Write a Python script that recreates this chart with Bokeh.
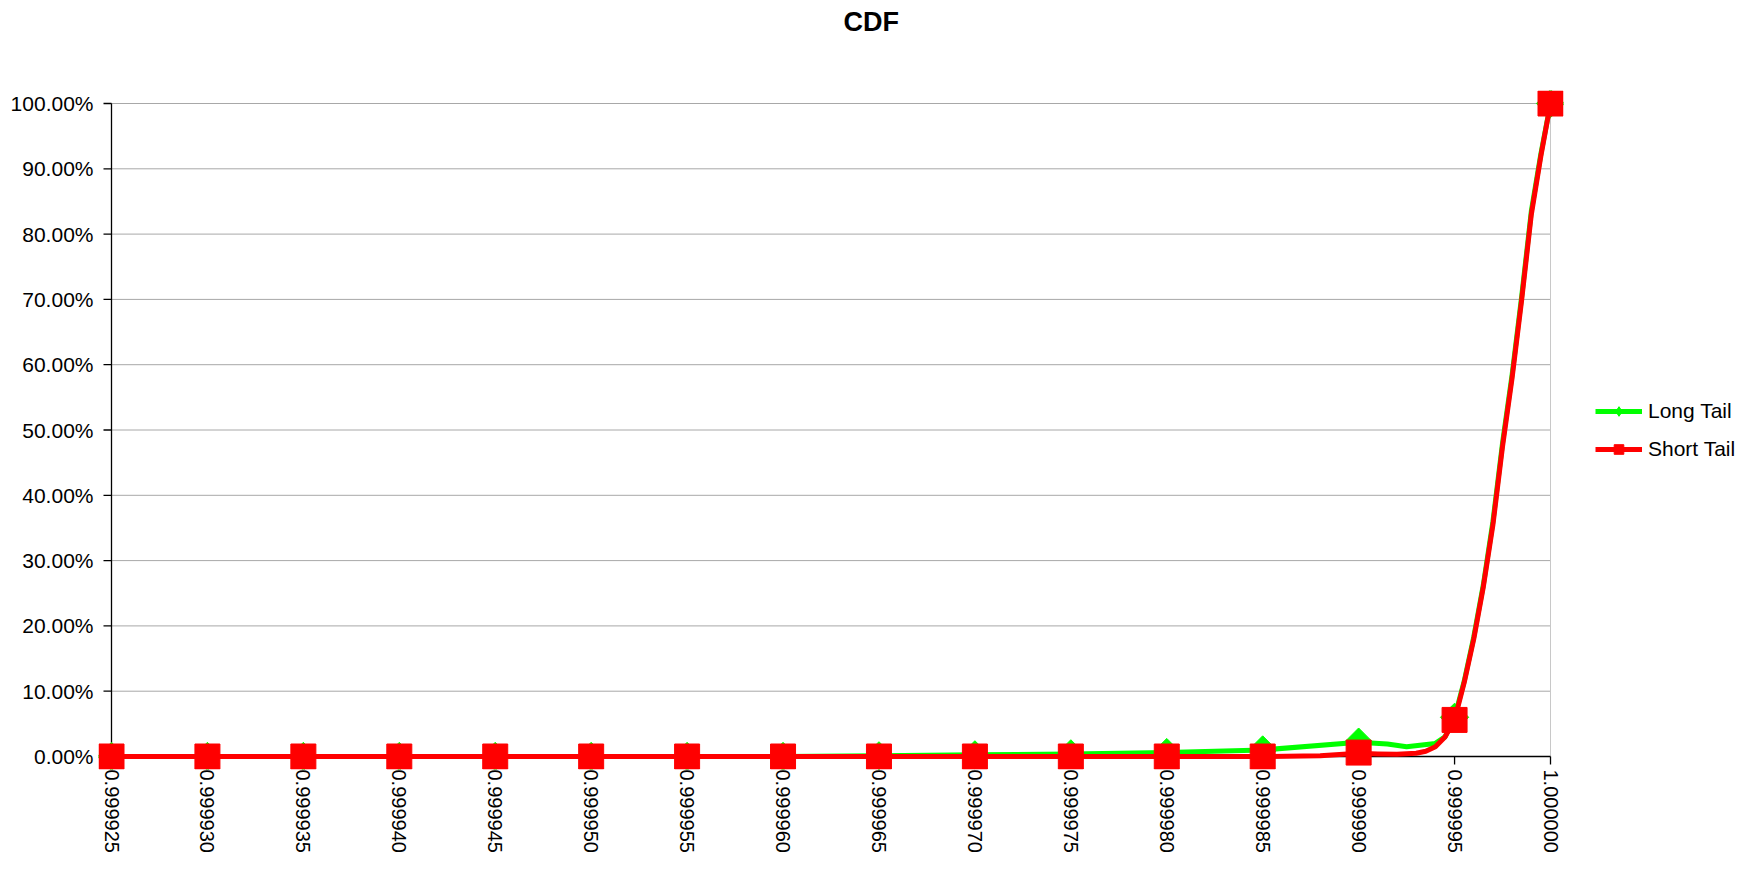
import math
from bokeh.plotting import figure
from bokeh.models import Range1d, FixedTicker, Legend, LegendItem, Title
from bokeh.embed import file_html
from bokeh.resources import INLINE

# ---------------- data ----------------
title_text = "CDF"
series_names = ["Long Tail", "Short Tail"]

x_ticks = [0.999925, 0.999930, 0.999935, 0.999940, 0.999945, 0.999950, 0.999955, 0.999960,
           0.999965, 0.999970, 0.999975, 0.999980, 0.999985, 0.999990, 0.999995, 1.000000]
x_tick_labels = ["0.999925", "0.999930", "0.999935", "0.999940", "0.999945", "0.999950",
                 "0.999955", "0.999960", "0.999965", "0.999970", "0.999975", "0.999980",
                 "0.999985", "0.999990", "0.999995", "1.000000"]
y_ticks = [0, 10, 20, 30, 40, 50, 60, 70, 80, 90, 100]
y_tick_labels = ["0.00%", "10.00%", "20.00%", "30.00%", "40.00%", "50.00%",
                 "60.00%", "70.00%", "80.00%", "90.00%", "100.00%"]

# marker values (percent) at each x tick
long_tail_markers = [0, 0, 0, 0, 0, 0, 0, 0, 0.1, 0.25, 0.4, 0.6, 1.0, 2.2, 6.0, 100]
short_tail_markers = [0, 0, 0, 0, 0, 0, 0, 0, 0, 0, 0, 0, 0, 0.6, 5.6, 100]

# drawn (smoothed) curves
long_tail_curve_x = [0.999925, 0.999930, 0.999935, 0.999940, 0.999945, 0.999950, 0.999955,
                     0.999960, 0.999965, 0.999970, 0.999975, 0.999980, 0.999985, 0.999990,
                     0.9999915, 0.9999925, 0.999994, 0.9999945, 0.999995, 0.9999955,
                     0.999996, 0.9999965, 0.999997, 0.9999975, 0.999998, 0.9999985,
                     0.999999, 0.9999995, 1.000000]
long_tail_curve_y = [0, 0, 0, 0, 0, 0, 0, 0, 0.1, 0.25, 0.4, 0.6, 1.0, 2.2,
                     1.9, 1.5, 2.0, 3.0, 6.0, 11.5,
                     18.3, 26.3, 36.0, 48.0, 58.5, 70.5, 83.5, 92.3, 100]
short_tail_curve_x = [0.999925, 0.999930, 0.999935, 0.999940, 0.999945, 0.999950, 0.999955,
                      0.999960, 0.999965, 0.999970, 0.999975, 0.999980, 0.999985, 0.999988,
                      0.999990, 0.999991, 0.999992, 0.999993, 0.9999935, 0.999994,
                      0.9999945, 0.999995, 0.9999955, 0.999996, 0.9999965, 0.999997,
                      0.9999975, 0.999998, 0.9999985, 0.999999, 0.9999995, 1.000000]
short_tail_curve_y = [0, 0, 0, 0, 0, 0, 0, 0, 0, 0, 0, 0, 0, 0.1,
                      0.5, 0.4, 0.35, 0.5, 0.8, 1.5,
                      3.0, 5.6, 11.3, 18.0, 26.0, 35.5, 47.5, 58.0, 70.0, 83.0, 92.0, 100]

# ---------------- styling / layout ----------------
GREEN = "#00ff00"
RED = "#ff0000"
FONT = "Liberation Sans"

X0, X1 = x_ticks[0], x_ticks[-1]
Y0, Y1 = y_ticks[0], y_ticks[-1]
PLOT_W, PLOT_H, PAD = 1439, 653, 13
x_pad = PAD / PLOT_W * (X1 - X0)
y_pad = PAD / PLOT_H * (Y1 - Y0)

p = figure(frame_width=PLOT_W + 2 * PAD, frame_height=PLOT_H + 2 * PAD,
           x_range=Range1d(X0 - x_pad, X1 + x_pad),
           y_range=Range1d(Y0 - y_pad, Y1 + y_pad),
           output_backend="svg", toolbar_location=None, title=None,
           min_border_left=98, min_border_right=184, min_border_top=90, min_border_bottom=85)
p.outline_line_color = None
p.background_fill_color = "white"
p.border_fill_color = "white"
p.xgrid.visible = False
p.ygrid.visible = False

# spacer panel between plot area and title, then the title itself
p.add_layout(Title(text="\u00a0", text_font=FONT, text_font_size="27px", standoff=22), "above")
p.add_layout(Title(text=title_text, text_font=FONT, text_font_size="27px",
                   text_font_style="bold", text_color="black", align="left",
                   offset=745, standoff=0), "above")

for ax in (p.xaxis[0], p.yaxis[0]):
    ax.axis_line_color = None
    ax.major_tick_in = 0
    ax.major_tick_out = 0
    ax.minor_tick_in = 0
    ax.minor_tick_out = 0
    ax.major_label_text_font = FONT
    ax.major_label_text_color = "black"

p.xaxis.major_label_text_font_size = "20px"
p.yaxis.major_label_text_font_size = "21px"
p.xaxis.ticker = FixedTicker(ticks=x_ticks)
p.xaxis.major_label_overrides = dict(zip(x_ticks, x_tick_labels))
p.xaxis.major_label_orientation = "vertical"
p.xaxis.major_label_standoff = 0
p.yaxis.ticker = FixedTicker(ticks=y_ticks)
p.yaxis.major_label_overrides = dict(zip(y_ticks, y_tick_labels))
p.yaxis.major_label_standoff = 5

# gridlines
n = len(y_ticks) - 1
p.segment(x0=[X0] * n, y0=y_ticks[1:], x1=[X1] * n, y1=y_ticks[1:],
          line_color="#505050", line_dash="1 1", line_width=1)
# right border of plot area
p.segment(x0=[X1], y0=[Y0], x1=[X1], y1=[Y1], line_color="#c8c8c8", line_width=1)
# axis lines
p.segment(x0=[X0, X0], y0=[Y0, Y0], x1=[X0, X1], y1=[Y1, Y0], line_color="black", line_width=1.3)
# tick marks
p.ray(x=[X0] * len(y_ticks), y=y_ticks, length=8, length_units="screen", angle=math.pi,
      line_color="black", line_width=1.3)
p.ray(x=x_ticks, y=[Y0] * len(x_ticks), length=8, length_units="screen", angle=-math.pi / 2,
      line_color="black", line_width=1.3)

# series
p.line(long_tail_curve_x, long_tail_curve_y, line_color=GREEN, line_width=5, line_join="round")
p.scatter(x_ticks, long_tail_markers, marker="square", angle=math.pi / 4, size=20,
          fill_color=GREEN, line_color=GREEN)
p.line(short_tail_curve_x, short_tail_curve_y, line_color=RED, line_width=5, line_join="round")
p.scatter(x_ticks, short_tail_markers, marker="square", size=25, fill_color=RED, line_color=RED)

# legend proxies
nan = float("nan")
gl = p.line([nan], [nan], line_color=GREEN, line_width=5)
gs = p.scatter([nan], [nan], marker="diamond", size=14, fill_color=GREEN, line_color=GREEN)
rl = p.line([nan], [nan], line_color=RED, line_width=5)
rs = p.scatter([nan], [nan], marker="square", size=13, fill_color=RED, line_color=RED)

legend = Legend(items=[LegendItem(label=series_names[0], renderers=[gl, gs]),
                       LegendItem(label=series_names[1], renderers=[rl, rs])],
                location=(32, 308), orientation="vertical",
                glyph_width=47, glyph_height=24, label_height=24, label_standoff=6,
                spacing=14, padding=0, margin=0,
                border_line_color=None, background_fill_alpha=0,
                label_text_font=FONT, label_text_font_size="21px", label_text_color="black")
p.add_layout(legend, "right")

open("out.html", "w").write(file_html(p, INLINE))
